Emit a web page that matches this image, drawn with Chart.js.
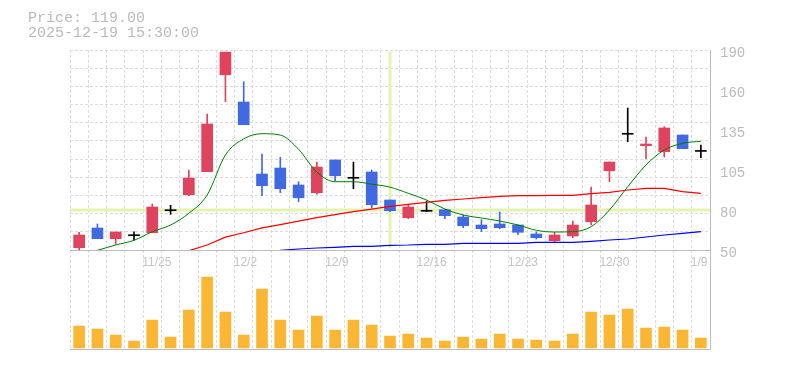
<!DOCTYPE html>
<html><head><meta charset="utf-8">
<script src="https://cdn.jsdelivr.net/npm/chart.js@4.4.1/dist/chart.umd.min.js"></script>
<style>
html,body{margin:0;padding:0;background:#fff;}
#wrap{position:relative;width:785px;height:370px;overflow:hidden;background:#fff;}
#hdr{position:absolute;left:28px;top:11px;font:15px/15px "Liberation Mono",monospace;color:#bbb;white-space:pre;}
#cvol{position:absolute;left:0;top:250px;}
#cp{position:absolute;left:0;top:0;}
</style></head>
<body><div id="wrap">
<canvas id="cvol" width="785" height="120"></canvas>
<canvas id="cp" width="785" height="270"></canvas>
<div id="hdr">Price: 119.00
2025-12-19 15:30:00</div>
</div>
<script>
// ---- data ----
const dates = ['11/18','11/19','11/20','11/21','11/25','11/26','11/27','11/28','12/1','12/2',
  '12/3','12/4','12/5','12/8','12/9','12/10','12/11','12/12','12/15','12/16',
  '12/17','12/18','12/19','12/22','12/23','12/24','12/25','12/26','12/29','12/30',
  '1/5','1/6','1/7','1/8','1/9'];
const dateTickLabels = ['11/25','12/2','12/9','12/16','12/23','12/30','1/9'];
const opens  = [51.6,65.4,57.9,60.0,62.1,77.5,88.7,104.8,172.7,153.6,
  103.2,107.4,95.5,90.1,113.0,100.2,104.6,85.0,72.6,77.1,
  78.2,73.1,67.5,68.2,67.5,61.2,56.5,59.8,69.8,105.5,
  131.0,123.0,118.8,130.5,119.0];
const highs  = [62.4,68.2,62.6,62.8,82.2,81.3,106.0,145.2,188.5,167.8,
  117.2,114.9,97.8,111.6,113.0,111.6,106.0,85.0,81.7,84.3,
  78.2,74.7,71.2,76.6,67.5,62.6,62.4,70.3,94.1,111.6,
  149.4,129.1,136.3,130.5,123.5];
const lows   = [49.8,57.9,54.0,56.8,62.1,75.0,88.0,104.8,153.8,137.7,
  88.0,90.1,83.8,89.0,98.3,92.9,79.4,76.8,71.9,76.8,
  71.9,65.6,62.8,64.9,60.7,57.7,55.6,58.6,67.5,97.8,
  125.8,113.9,115.1,120.9,114.6];
const closes = [60.5,57.9,62.6,60.0,80.1,77.5,100.4,138.2,188.5,137.7,
  95.0,92.9,86.6,108.1,102.0,100.2,81.7,77.5,80.1,77.1,
  74.0,67.0,64.9,65.6,62.4,58.6,60.5,67.5,81.5,111.6,
  131.0,124.2,135.4,120.9,119.0];
const maShort = [null,49.8,53.5,56.8,62.8,67.5,75.7,88.5,116.5,127.8,
  131.4,130.5,120.5,104.5,97.8,97.8,96.1,94.0,89.7,85.0,
  78.7,74.5,72.4,70.3,67.5,63.8,62.6,62.8,66.3,78.0,
  94.3,109.5,120.0,124.7,126.1];
const maMid = [null,null,null,null,null,null,49.5,53.5,59.0,62.1,
  65.5,67.8,70.2,72.6,74.8,76.8,78.6,80.5,82.0,83.4,
  84.8,85.7,86.6,87.6,88.0,88.0,88.3,88.3,89.4,90.4,
  92.0,93.2,93.2,90.8,89.7];
const maLong = [null,null,null,null,null,null,null,null,null,null,
  null,49.8,50.7,51.4,51.9,52.6,52.6,53.3,53.5,54.0,
  54.0,54.7,54.7,54.7,54.7,55.4,55.4,55.4,56.1,57.0,
  57.7,59.1,60.5,61.7,62.8];
const volumes = [22,19,13,7,28,11,38,71,36,13,
  59,28,18,32,18,28,23,12,14,10,
  7,11,9,14,9,8,7,14,36,33,
  39,20,21,18,10];
const priceTickValues = [50,78,106,134,162,190];
const priceTickLabels = ['50','80','105','135','160','190'];
const crossIndex = 17;
const crossValue = 78;

// ---- styles ----
const UP = '#e0435e', DOWN = '#4169e1', FLAT = '#000000';
const GRID = '#dcdcdc', AXIS = '#bbbbbb';
function candleColor(i){ return closes[i] > opens[i] ? UP : (closes[i] < opens[i] ? DOWN : FLAT); }
const gridVals = [];
for (let k = 0; k <= 11; k++) gridVals.push(50 + k * 140 / 11);

const crosshair = {
  id: 'crosshair',
  beforeDatasetsDraw(chart) {
    const {ctx, chartArea: a, scales} = chart;
    const x = scales.x.getPixelForValue(crossIndex);
    const y = scales.y.getPixelForValue(crossValue);
    ctx.save();
    ctx.strokeStyle = '#e3f3b0';
    ctx.lineWidth = 3;
    ctx.beginPath();
    ctx.moveTo(a.left, y); ctx.lineTo(a.right, y);
    ctx.moveTo(x, a.top + 1.5); ctx.lineTo(x, a.bottom - 2);
    ctx.stroke();
    ctx.restore();
  }
};

new Chart(document.getElementById('cp'), {
  type: 'bar',
  data: {
    labels: dates,
    datasets: [
      { type: 'bar', data: lows.map((l, i) => [l, highs[i]]), barThickness: 1, grouped: false,
        backgroundColor: c => candleColor(c.dataIndex), borderWidth: 0, order: 3 },
      { type: 'bar', data: opens.map((o, i) => [o, closes[i]]), barThickness: 11, grouped: false,
        minBarLength: 1, backgroundColor: c => candleColor(c.dataIndex), borderWidth: 0, order: 2 },
      { type: 'line', data: maShort, borderColor: '#008000', borderWidth: 1, pointRadius: 0,
        cubicInterpolationMode: 'monotone', order: 1 },
      { type: 'line', data: maMid, borderColor: '#ff0000', borderWidth: 1.2, pointRadius: 0, order: 1 },
      { type: 'line', data: maLong, borderColor: '#0000ff', borderWidth: 1.2, pointRadius: 0, order: 1 }
    ]
  },
  options: {
    responsive: false, animation: false,
    layout: { padding: { left: 70, top: 50, right: 0, bottom: 0 } },
    plugins: { legend: { display: false }, tooltip: { enabled: false } },
    scales: {
      x: {
        type: 'category', offset: true,
        grid: { offset: true, color: GRID, drawTicks: false },
        border: { display: true, color: AXIS, width: 1, dash: [3, 2] },
        ticks: { autoSkip: false, maxRotation: 0, minRotation: 0, align: 'start', labelOffset: -10, padding: 5,
          color: '#c4c4c4', font: { family: 'Liberation Sans', size: 12 },
          callback: (v, i) => dateTickLabels.includes(dates[i]) ? dates[i] : '' },
        afterFit: s => { s.height = 20; }
      },
      y: {
        type: 'linear', position: 'right', min: 50, max: 190,
        afterBuildTicks: s => { s.ticks = gridVals.map(v => ({ value: v })); },
        grid: { color: GRID, drawTicks: false },
        border: { display: false, dash: [3, 2] },
        ticks: { display: false },
        afterFit: s => { s.width = 0; }
      },
      yL: {
        type: 'linear', position: 'right', min: 50, max: 190,
        afterBuildTicks: s => { s.ticks = priceTickValues.map(v => ({ value: v })); },
        grid: { display: false, drawTicks: false },
        border: { display: true, color: AXIS, width: 1 },
        ticks: { padding: 10, labelOffset: 3, color: '#bbb', font: { family: 'Liberation Mono', size: 14 },
          callback: v => priceTickLabels[priceTickValues.indexOf(v)] },
        afterFit: s => { s.width = 75; }
      }
    }
  },
  plugins: [crosshair]
});

new Chart(document.getElementById('cvol'), {
  type: 'bar',
  data: { labels: dates, datasets: [{ data: volumes, backgroundColor: '#fbb634', barThickness: 11, borderWidth: 0 }] },
  options: {
    responsive: false, animation: false,
    layout: { padding: { left: 70, top: 0, right: 0, bottom: 0 } },
    plugins: { legend: { display: false }, tooltip: { enabled: false } },
    scales: {
      x: {
        type: 'category', offset: true,
        grid: { offset: true, color: GRID, drawTicks: false },
        border: { display: true, color: AXIS, width: 1, dash: [3, 2] },
        ticks: { display: false },
        afterFit: s => { s.height = 20.5; }
      },
      y: {
        position: 'right', min: -1.5, max: 98,
        grid: { display: false, drawTicks: false },
        border: { display: true, color: AXIS, width: 1 },
        ticks: { display: false },
        afterFit: s => { s.width = 75; }
      }
    }
  }
});
</script>
</body></html>
